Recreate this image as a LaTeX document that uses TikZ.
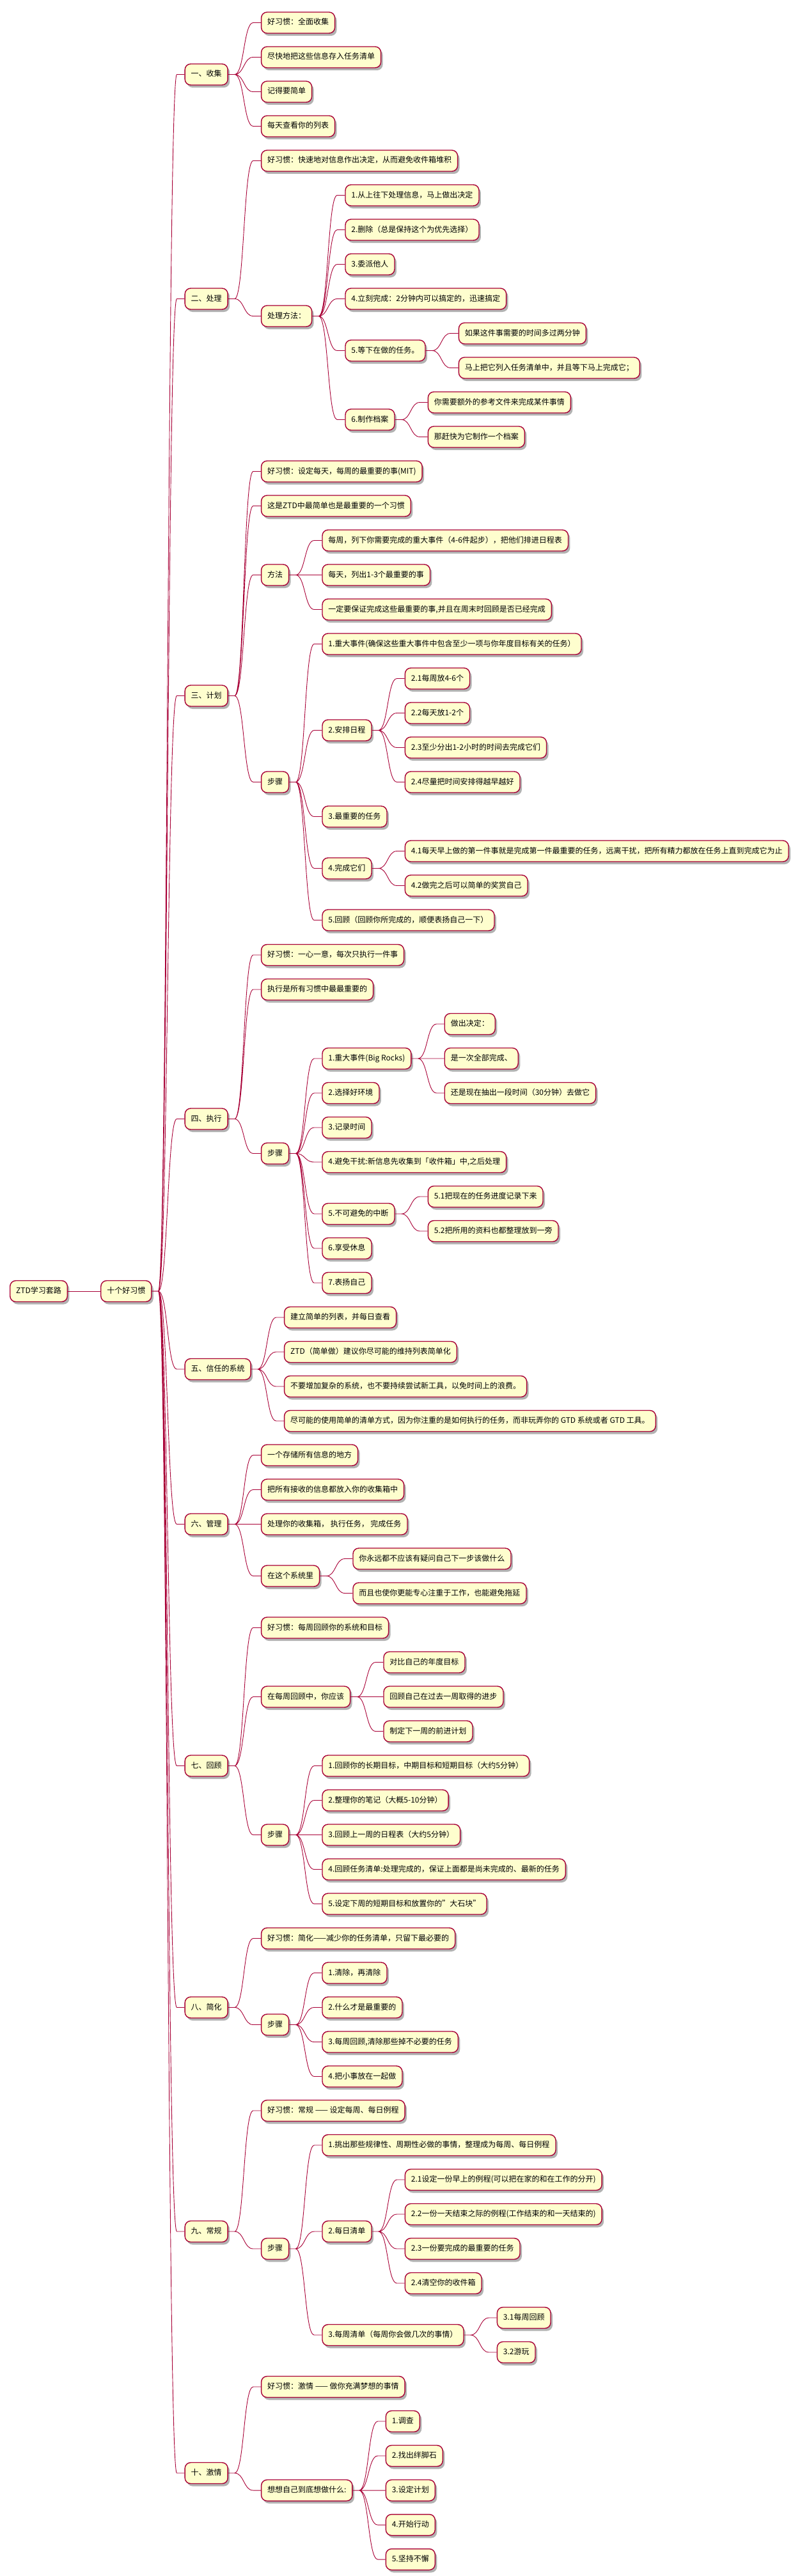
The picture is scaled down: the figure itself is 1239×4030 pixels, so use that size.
\documentclass[tikz,border=0pt]{standalone}
\usepackage{fontspec}
\setmainfont{Noto Sans CJK SC}
\usepackage{xcolor}
\usepackage{tikz}
\usetikzlibrary{positioning,shadows}
\definecolor{boxfill}{HTML}{FEFECE}
\definecolor{boxline}{HTML}{A80036}

\begin{document}
\begin{tikzpicture}[x=1pt, y=1pt, node distance=51pt,
    box/.style={rectangle, rounded corners=9pt, draw=boxline, line width=1.4pt, fill=boxfill,
      minimum height=33pt, inner xsep=9.5pt, inner ysep=0pt, text height=9.5pt, text depth=2.5pt,
      font=\fontsize{12pt}{14pt}\selectfont,
      drop shadow={shadow xshift=3pt, shadow yshift=-4pt, fill=black, opacity=0.3}},
    link/.style={draw=boxline, line width=0.9pt,
      to path={(\tikztostart.east) -- ++(10pt,0) .. controls +(15pt,0) and +(-15pt,0) .. ([xshift=-12pt]\tikztotarget.west) -- (\tikztotarget.west)}}]
    \useasboundingbox (0,0) rectangle (1239,-4030);

    % root
    \node [box, anchor=west] (root) at (15,-2020) {ZTD学习套路};
    \node [box, right=of root] (ten) {十个好习惯};

    % 一 收集
    \node [box, right=of ten, yshift=1903.5pt] (s1) {一、收集};
    \node [box, right=of s1, yshift=81pt] (s1a) {好习惯：全面收集};
    \node [box, right=of s1, yshift=27pt] (s1b) {尽快地把这些信息存入任务清单};
    \node [box, right=of s1, yshift=-27pt] (s1c) {记得要简单};
    \node [box, right=of s1, yshift=-81pt] (s1d) {每天查看你的列表};

    % 二 处理
    \node [box, right=of ten, yshift=1552.5pt] (s2) {二、处理};
    \node [box, right=of s2, yshift=216pt] (s2a) {好习惯：快速地对信息作出决定，从而避免收件箱堆积};
    \node [box, right=of s2, yshift=-27pt] (s2b) {处理方法：};
    \node [box, right=of s2b, yshift=189pt] (s2b1) {1.从上往下处理信息，马上做出决定};
    \node [box, right=of s2b, yshift=135pt] (s2b2) {2.删除（总是保持这个为优先选择）};
    \node [box, right=of s2b, yshift=81pt] (s2b3) {3.委派他人};
    \node [box, right=of s2b, yshift=27pt] (s2b4) {4.立刻完成：2分钟内可以搞定的，迅速搞定};
    \node [box, right=of s2b, yshift=-54pt] (s2b5) {5.等下在做的任务。};
    \node [box, right=of s2b5, yshift=27pt] (s2b5a) {如果这件事需要的时间多过两分钟};
    \node [box, right=of s2b5, yshift=-27pt] (s2b5b) {马上把它列入任务清单中，并且等下马上完成它；};
    \node [box, right=of s2b, yshift=-162pt] (s2b6) {6.制作档案};
    \node [box, right=of s2b6, yshift=27pt] (s2b6a) {你需要额外的参考文件来完成某件事情};
    \node [box, right=of s2b6, yshift=-27pt] (s2b6b) {那赶快为它制作一个档案};

    % 三 计划
    \node [box, right=of ten, yshift=931.5pt] (s3) {三、计划};
    \node [box, right=of s3, yshift=351pt] (s3a) {好习惯：设定每天，每周的最重要的事(MIT)};
    \node [box, right=of s3, yshift=297pt] (s3b) {这是ZTD中最简单也是最重要的一个习惯};
    \node [box, right=of s3, yshift=189pt] (s3c) {方法};
    \node [box, right=of s3c, yshift=54pt] (s3c1) {每周，列下你需要完成的重大事件（4-6件起步），把他们排进日程表};
    \node [box, right=of s3c] (s3c2) {每天，列出1-3个最重要的事};
    \node [box, right=of s3c, yshift=-54pt] (s3c3) {一定要保证完成这些最重要的事,并且在周末时回顾是否已经完成};
    \node [box, right=of s3, yshift=-135pt] (s3d) {步骤};
    \node [box, right=of s3d, yshift=216pt] (s3d1) {1.重大事件(确保这些重大事件中包含至少一项与你年度目标有关的任务）};
    \node [box, right=of s3d, yshift=81pt] (s3d2) {2.安排日程};
    \node [box, right=of s3d2, yshift=81pt] (s3d2a) {2.1每周放4-6个};
    \node [box, right=of s3d2, yshift=27pt] (s3d2b) {2.2每天放1-2个};
    \node [box, right=of s3d2, yshift=-27pt] (s3d2c) {2.3至少分出1-2小时的时间去完成它们};
    \node [box, right=of s3d2, yshift=-81pt] (s3d2d) {2.4尽量把时间安排得越早越好};
    \node [box, right=of s3d, yshift=-54pt] (s3d3) {3.最重要的任务};
    \node [box, right=of s3d, yshift=-135pt] (s3d4) {4.完成它们};
    \node [box, right=of s3d4, yshift=27pt] (s3d4a) {4.1每天早上做的第一件事就是完成第一件最重要的任务，远离干扰，把所有精力都放在任务上直到完成它为止};
    \node [box, right=of s3d4, yshift=-27pt] (s3d4b) {4.2做完之后可以简单的奖赏自己};
    \node [box, right=of s3d, yshift=-216pt] (s3d5) {5.回顾（回顾你所完成的，顺便表扬自己一下）};

    % 四 执行
    \node [box, right=of ten, yshift=269.5pt] (s4) {四、执行};
    \node [box, right=of s4, yshift=256.5pt] (s4a) {好习惯：一心一意，每次只执行一件事};
    \node [box, right=of s4, yshift=202.5pt] (s4b) {执行是所有习惯中最最重要的};
    \node [box, right=of s4, yshift=-54pt] (s4c) {步骤};
    \node [box, right=of s4c, yshift=148.5pt] (s4c1) {1.重大事件(Big Rocks)};
    \node [box, right=of s4c1, yshift=54pt] (s4c1a) {做出决定：};
    \node [box, right=of s4c1] (s4c1b) {是一次全部完成、};
    \node [box, right=of s4c1, yshift=-54pt] (s4c1c) {还是现在抽出一段时间（30分钟）去做它};
    \node [box, right=of s4c, yshift=94.5pt] (s4c2) {2.选择好环境};
    \node [box, right=of s4c, yshift=40.5pt] (s4c3) {3.记录时间};
    \node [box, right=of s4c, yshift=-13.5pt] (s4c4) {4.避免干扰:新信息先收集到「收件箱」中,之后处理};
    \node [box, right=of s4c, yshift=-94.5pt] (s4c5) {5.不可避免的中断};
    \node [box, right=of s4c5, yshift=27pt] (s4c5a) {5.1把现在的任务进度记录下来};
    \node [box, right=of s4c5, yshift=-27pt] (s4c5b) {5.2把所用的资料也都整理放到一旁};
    \node [box, right=of s4c, yshift=-148.5pt] (s4c6) {6.享受休息};
    \node [box, right=of s4c, yshift=-202.5pt] (s4c7) {7.表扬自己};

    % 五 信任的系统
    \node [box, right=of ten, yshift=-122pt] (s5) {五、信任的系统};
    \node [box, right=of s5, yshift=81pt] (s5a) {建立简单的列表，并每日查看};
    \node [box, right=of s5, yshift=27pt] (s5b) {ZTD（简单做）建议你尽可能的维持列表简单化};
    \node [box, right=of s5, yshift=-27pt] (s5c) {不要增加复杂的系统，也不要持续尝试新工具，以免时间上的浪费。};
    \node [box, right=of s5, yshift=-81pt] (s5d) {尽可能的使用简单的清单方式，因为你注重的是如何执行的任务，而非玩弄你的 GTD 系统或者 GTD 工具。};

    % 六 管理
    \node [box, right=of ten, yshift=-364.5pt] (s6) {六、管理};
    \node [box, right=of s6, yshift=108pt] (s6a) {一个存储所有信息的地方};
    \node [box, right=of s6, yshift=54pt] (s6b) {把所有接收的信息都放入你的收集箱中};
    \node [box, right=of s6] (s6c) {处理你的收集箱， 执行任务， 完成任务};
    \node [box, right=of s6, yshift=-81pt] (s6d) {在这个系统里};
    \node [box, right=of s6d, yshift=27pt] (s6d1) {你永远都不应该有疑问自己下一步该做什么};
    \node [box, right=of s6d, yshift=-27pt] (s6d2) {而且也使你更能专心注重于工作，也能避免拖延};

    % 七 回顾
    \node [box, right=of ten, yshift=-742.5pt] (s7) {七、回顾};
    \node [box, right=of s7, yshift=216pt] (s7a) {好习惯：每周回顾你的系统和目标};
    \node [box, right=of s7, yshift=108pt] (s7b) {在每周回顾中，你应该};
    \node [box, right=of s7b, yshift=54pt] (s7b1) {对比自己的年度目标};
    \node [box, right=of s7b] (s7b2) {回顾自己在过去一周取得的进步};
    \node [box, right=of s7b, yshift=-54pt] (s7b3) {制定下一周的前进计划};
    \node [box, right=of s7, yshift=-108pt] (s7c) {步骤};
    \node [box, right=of s7c, yshift=108pt] (s7c1) {1.回顾你的长期目标，中期目标和短期目标（大约5分钟）};
    \node [box, right=of s7c, yshift=54pt] (s7c2) {2.整理你的笔记（大概5-10分钟）};
    \node [box, right=of s7c] (s7c3) {3.回顾上一周的日程表（大约5分钟）};
    \node [box, right=of s7c, yshift=-54pt] (s7c4) {4.回顾任务清单:处理完成的，保证上面都是尚未完成的、最新的任务};
    \node [box, right=of s7c, yshift=-108pt] (s7c5) {5.设定下周的短期目标和放置你的"大石块"};

    % 八 简化
    \node [box, right=of ten, yshift=-1120.5pt] (s8) {八、简化};
    \node [box, right=of s8, yshift=108pt] (s8a) {好习惯：简化——减少你的任务清单，只留下最必要的};
    \node [box, right=of s8, yshift=-27pt] (s8b) {步骤};
    \node [box, right=of s8b, yshift=81pt] (s8b1) {1.清除，再清除};
    \node [box, right=of s8b, yshift=27pt] (s8b2) {2.什么才是最重要的};
    \node [box, right=of s8b, yshift=-27pt] (s8b3) {3.每周回顾,清除那些掉不必要的任务};
    \node [box, right=of s8b, yshift=-81pt] (s8b4) {4.把小事放在一起做};

    % 九 常规
    \node [box, right=of ten, yshift=-1471pt] (s9) {九、常规};
    \node [box, right=of s9, yshift=189pt] (s9a) {好习惯：常规 —— 设定每周、每日例程};
    \node [box, right=of s9, yshift=-27pt] (s9b) {步骤};
    \node [box, right=of s9b, yshift=162pt] (s9b1) {1.挑出那些规律性、周期性必做的事情，整理成为每周、每日例程};
    \node [box, right=of s9b, yshift=27pt] (s9b2) {2.每日清单};
    \node [box, right=of s9b2, yshift=81pt] (s9b2a) {2.1设定一份早上的例程(可以把在家的和在工作的分开)};
    \node [box, right=of s9b2, yshift=27pt] (s9b2b) {2.2一份一天结束之际的例程(工作结束的和一天结束的)};
    \node [box, right=of s9b2, yshift=-27pt] (s9b2c) {2.3一份要完成的最重要的任务};
    \node [box, right=of s9b2, yshift=-81pt] (s9b2d) {2.4清空你的收件箱};
    \node [box, right=of s9b, yshift=-135pt] (s9b3) {3.每周清单（每周你会做几次的事情）};
    \node [box, right=of s9b3, yshift=27pt] (s9b3a) {3.1每周回顾};
    \node [box, right=of s9b3, yshift=-27pt] (s9b3b) {3.2游玩};

    % 十 激情
    \node [box, right=of ten, yshift=-1849pt] (s10) {十、激情};
    \node [box, right=of s10, yshift=135pt] (s10a) {好习惯：激情 —— 做你充满梦想的事情};
    \node [box, right=of s10, yshift=-27pt] (s10b) {想想自己到底想做什么:};
    \node [box, right=of s10b, yshift=108pt] (s10b1) {1.调查};
    \node [box, right=of s10b, yshift=54pt] (s10b2) {2.找出绊脚石};
    \node [box, right=of s10b] (s10b3) {3.设定计划};
    \node [box, right=of s10b, yshift=-54pt] (s10b4) {4.开始行动};
    \node [box, right=of s10b, yshift=-108pt] (s10b5) {5.坚持不懈};

    % links
    \draw [link] (root) to (ten);
    \draw [link] (ten) to (s1) (ten) to (s2) (ten) to (s3) (ten) to (s4) (ten) to (s5);
    \draw [link] (ten) to (s6) (ten) to (s7) (ten) to (s8) (ten) to (s9) (ten) to (s10);
    \draw [link] (s1) to (s1a) (s1) to (s1b) (s1) to (s1c) (s1) to (s1d);
    \draw [link] (s2) to (s2a) (s2) to (s2b);
    \draw [link] (s2b) to (s2b1) (s2b) to (s2b2) (s2b) to (s2b3) (s2b) to (s2b4) (s2b) to (s2b5) (s2b) to (s2b6);
    \draw [link] (s2b5) to (s2b5a) (s2b5) to (s2b5b);
    \draw [link] (s2b6) to (s2b6a) (s2b6) to (s2b6b);
    \draw [link] (s3) to (s3a) (s3) to (s3b) (s3) to (s3c) (s3) to (s3d);
    \draw [link] (s3c) to (s3c1) (s3c) to (s3c2) (s3c) to (s3c3);
    \draw [link] (s3d) to (s3d1) (s3d) to (s3d2) (s3d) to (s3d3) (s3d) to (s3d4) (s3d) to (s3d5);
    \draw [link] (s3d2) to (s3d2a) (s3d2) to (s3d2b) (s3d2) to (s3d2c) (s3d2) to (s3d2d);
    \draw [link] (s3d4) to (s3d4a) (s3d4) to (s3d4b);
    \draw [link] (s4) to (s4a) (s4) to (s4b) (s4) to (s4c);
    \draw [link] (s4c) to (s4c1) (s4c) to (s4c2) (s4c) to (s4c3) (s4c) to (s4c4) (s4c) to (s4c5) (s4c) to (s4c6) (s4c) to (s4c7);
    \draw [link] (s4c1) to (s4c1a) (s4c1) to (s4c1b) (s4c1) to (s4c1c);
    \draw [link] (s4c5) to (s4c5a) (s4c5) to (s4c5b);
    \draw [link] (s5) to (s5a) (s5) to (s5b) (s5) to (s5c) (s5) to (s5d);
    \draw [link] (s6) to (s6a) (s6) to (s6b) (s6) to (s6c) (s6) to (s6d);
    \draw [link] (s6d) to (s6d1) (s6d) to (s6d2);
    \draw [link] (s7) to (s7a) (s7) to (s7b) (s7) to (s7c);
    \draw [link] (s7b) to (s7b1) (s7b) to (s7b2) (s7b) to (s7b3);
    \draw [link] (s7c) to (s7c1) (s7c) to (s7c2) (s7c) to (s7c3) (s7c) to (s7c4) (s7c) to (s7c5);
    \draw [link] (s8) to (s8a) (s8) to (s8b);
    \draw [link] (s8b) to (s8b1) (s8b) to (s8b2) (s8b) to (s8b3) (s8b) to (s8b4);
    \draw [link] (s9) to (s9a) (s9) to (s9b);
    \draw [link] (s9b) to (s9b1) (s9b) to (s9b2) (s9b) to (s9b3);
    \draw [link] (s9b2) to (s9b2a) (s9b2) to (s9b2b) (s9b2) to (s9b2c) (s9b2) to (s9b2d);
    \draw [link] (s9b3) to (s9b3a) (s9b3) to (s9b3b);
    \draw [link] (s10) to (s10a) (s10) to (s10b);
    \draw [link] (s10b) to (s10b1) (s10b) to (s10b2) (s10b) to (s10b3) (s10b) to (s10b4) (s10b) to (s10b5);
\end{tikzpicture}
\end{document}
